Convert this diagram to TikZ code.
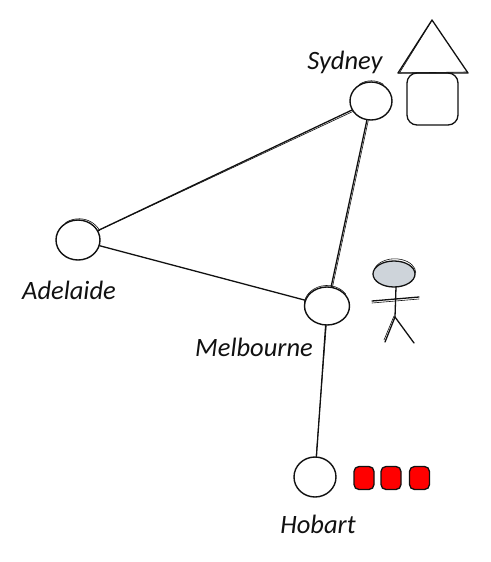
\documentclass[tikz,border=0pt]{standalone}
\usepackage{fontspec}
\setmainfont{Carlito}
\usetikzlibrary{shapes.geometric}
\definecolor{headgrey}{HTML}{CED4DA}
\definecolor{ink}{HTML}{111111}
\tikzset{
  city/.style={draw=ink,line width=1.4pt,ellipse,inner sep=0pt,fill=white},
  cityname/.style={text=ink,font=\itshape\fontsize{26.5}{26.5}\selectfont,inner sep=0pt},
  stroke/.style={draw=ink,line width=1.3pt,line cap=round,line join=round},
  thin stroke/.style={draw=ink,line width=.6pt,line cap=round},
  redbox/.style={draw=ink,line width=1.3pt,fill=red,rounded corners=5pt,minimum width=20pt,minimum height=23pt,inner sep=0pt}
}
\begin{document}
\begin{tikzpicture}[x=1pt,y=-1pt]
\useasboundingbox (0,0) rectangle (490,562);
% cities
\node[city,minimum width=42pt,minimum height=38pt] (syd) at (371,101) {};
\node[city,minimum width=44pt,minimum height=40pt] (ade) at (78,240) {};
\node[city,minimum width=45pt,minimum height=38pt] (mel) at (327,306) {};
\node[city,minimum width=42pt,minimum height=40pt] (hob) at (315,477) {};
% connectors
\draw[stroke] (syd) -- (ade);
\draw[thin stroke] (syd.210) -- (ade.25);
\draw[stroke] (syd) -- (mel);
\draw[thin stroke] (syd.262) -- (mel.74);
\draw[stroke] (ade) -- (mel);
\draw[stroke] (mel) -- (hob);
\draw[thin stroke] (mel.268) -- (hob.87);
% sketch overstrokes on the circles
\draw[thin stroke] (ade.125) arc[x radius=23,y radius=21,start angle=-125,end angle=-25];
\draw[thin stroke] (mel.170) arc[x radius=23,y radius=20,start angle=-170,end angle=-35];
\draw[thin stroke] (syd.125) arc[x radius=21,y radius=20,start angle=-125,end angle=-55];
% labels
\node[cityname] (sydl) at (345,62) {Sydney};
\node[cityname] (adel) at (69,290) {Adelaide};
\node[cityname] (mell) at (254,347) {Melbourne};
\node[cityname] (hobl) at (318,524) {Hobart};
% house
\coordinate (apex) at (432,20);
\coordinate (tl) at (398,73);
\coordinate (tr) at (468,73);
\draw[stroke] (apex) -- (tr) -- (tl) -- cycle;
\draw[thin stroke] (431,22) -- (400,72);
\draw[thin stroke] (tl) -- (467,72);
\draw[stroke,rounded corners=10pt] (407,73) rectangle (458,125);
% person
\coordinate (neck) at (396,287);
\coordinate (hip) at (395,317);
\draw[stroke,fill=headgrey] (394,274) ellipse[x radius=21,y radius=13];
\draw[thin stroke] (375,268) arc[x radius=21,y radius=14,start angle=-160,end angle=0];
\draw[stroke] (neck) -- (hip);
\draw[stroke] (372,301) -- (419,297);
\draw[thin stroke] (372,303) -- (419,299);
\draw[stroke] (hip) -- (385,342);
\draw[thin stroke] (394,316) -- (384,340);
\draw[stroke] (hip) -- (414,343);
% red boxes
\node[redbox] (r1) at (364,478) {};
\node[redbox] (r2) at (391,478) {};
\node[redbox] (r3) at (419.5,478) {};
\end{tikzpicture}
\end{document}
